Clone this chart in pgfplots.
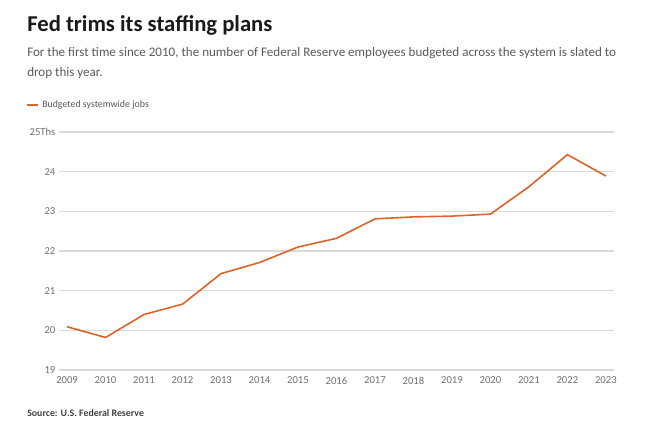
\documentclass[border=0pt]{standalone}
\usepackage{pgfplots}
\pgfplotsset{compat=1.18}
\usepackage{fontspec}
\setmainfont{Carlito}
\definecolor{fedorange}{RGB}{222,99,38}
\definecolor{gridgray}{RGB}{217,217,217}
\definecolor{labelgray}{RGB}{112,112,112}
\definecolor{subgray}{RGB}{90,90,90}
\begin{document}
\begin{tikzpicture}
  \begin{scope}[x=0.75pt,y=0.75pt]
  \path[use as bounding box] (0,0) rectangle (660,433);
  % title block
  \node[anchor=base west, inner sep=0pt, font=\bfseries\fontsize{17}{20}\selectfont, text=black!90]
    at (27,401) {Fed trims its staffing plans};
  \node[anchor=base west, inner sep=0pt, font=\fontsize{9.8}{12}\selectfont, text=subgray]
    at (27,376) {For the first time since 2010, the number of Federal Reserve employees budgeted across the system is slated to};
  \node[anchor=base west, inner sep=0pt, font=\fontsize{9.8}{12}\selectfont, text=subgray]
    at (27,357) {drop this year.};
  % legend
  \draw[fedorange, line width=1.5pt] (27,328) -- (38,328);
  \node[anchor=west, inner sep=0pt, font=\fontsize{7.4}{10}\selectfont, text=subgray]
    at (42,328) {Budgeted systemwide jobs};
  % source
  \node[anchor=west, inner sep=0pt, font=\bfseries\fontsize{7.4}{10}\selectfont, text=black!75]
    at (27,20) {Source: U.S. Federal Reserve};
  \end{scope}

  \begin{axis}[
    at={(44.25pt,47.25pt)}, anchor=south west,
    scale only axis,
    width=416.25pt, height=178.5pt,
    xmin=2008.79, xmax=2023.21,
    ymin=19, ymax=25,
    axis line style={draw=none},
    xtick={2009,...,2023},
    ytick={19,20,21,22,23,24,25},
    yticklabels={19,20,21,22,23,24,25Ths},
    x tick label style={/pgf/number format/1000 sep={}},
    xticklabel style={inner sep=0pt, yshift=-5pt, text=labelgray, font=\fontsize{8}{10}\selectfont},
    yticklabel style={inner sep=0pt, xshift=-2.5pt, text=labelgray, font=\fontsize{8}{10}\selectfont},
    /pgf/number format/assume math mode=true,
    major tick length=0pt,
    ymajorgrids=true,
    grid style={gridgray, line width=0.8pt},
    clip=false,
  ]
  \addplot[color=fedorange, line width=1.2pt, mark=none] coordinates {
    (2009,20.09)(2010,19.82)(2011,20.40)(2012,20.66)(2013,21.43)
    (2014,21.71)(2015,22.10)(2016,22.32)(2017,22.81)(2018,22.86)
    (2019,22.88)(2020,22.93)(2021,23.62)(2022,24.43)(2023,23.89)
  };
  \end{axis}
\end{tikzpicture}
\end{document}
